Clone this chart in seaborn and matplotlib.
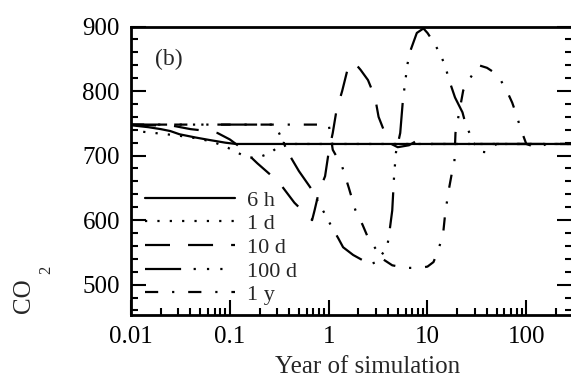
import matplotlib
matplotlib.use("Agg")
import matplotlib.pyplot as plt
import seaborn as sns
import numpy as np
from matplotlib.ticker import MultipleLocator, LogLocator, FixedLocator, FixedFormatter, NullFormatter

# ---------------- data ----------------
x_6h = [0.01, 0.015, 0.02, 0.025, 0.031, 0.045, 0.063, 0.09, 0.115, 290]
y_6h = [747, 744, 741, 738, 733, 728, 724, 720, 718, 718]

x_1d = [0.01, 0.013, 0.02, 0.03, 0.045, 0.065, 0.08, 0.096, 0.121, 0.153, 0.194,
        0.256, 0.30, 0.339, 0.4, 290]
y_1d = [740, 737, 734, 731, 727, 722, 717, 712, 704, 697, 697, 704, 712, 720, 718, 718]

x_10d = [0.01, 0.027, 0.04, 0.06, 0.075, 0.1, 0.12, 0.15, 0.19, 0.25, 0.32, 0.45,
         0.6, 0.68, 0.72, 0.8, 0.92, 1.0, 1.1, 1.2, 1.37, 1.55, 1.8, 2.1, 2.5,
         2.95, 3.2, 3.6, 3.9, 4.3, 5.0, 6.5, 8.0, 9.5, 11, 290]
y_10d = [748, 746, 741, 738, 735, 725, 716, 703, 688, 672, 657, 627,
         608, 600, 615, 645, 668, 705, 735, 770, 800, 833, 845, 833, 817,
         790, 760, 740, 728, 718, 713, 716, 724, 716, 718, 718]

x_100d = [0.01, 0.27, 0.30, 0.39, 0.5, 0.65, 0.92, 1.07, 1.25, 1.4, 1.77, 2.2,
          2.6, 3.0, 3.5, 3.9, 4.1, 4.4, 4.6, 4.8, 5.3, 5.6, 5.9, 6.3, 6.7, 7.8,
          9.1, 10, 11.5, 13.4, 15.2, 16.3, 19, 22.6, 24.2, 26.6, 29, 35, 40, 45,
          50, 290]
y_100d = [748, 748, 742, 704, 676, 651, 609, 590, 572, 558, 546, 538,
          531, 535, 548, 557, 579, 615, 670, 705, 735, 780, 810, 843, 862, 890,
          897, 890, 876, 858, 838, 820, 790, 767, 750, 735, 720, 706, 705, 712,
          718, 718]

x_1y = [0.01, 1.0, 1.05, 1.1, 1.37, 1.6, 1.86, 2.2, 2.5, 3.1, 3.5, 4.4, 6.0, 8.5,
        10, 11.5, 12.9, 14.4, 15.1, 16.3, 17.9, 18.7, 19.2, 20.1, 23, 27, 33,
        40, 47, 55, 65, 72, 80, 87, 100, 130, 160, 290]
y_1y = [748, 748, 730, 709, 683, 650, 616, 593, 573, 552, 540, 530, 526, 526,
        528, 535, 554, 579, 610, 644, 678, 688, 735, 752, 801, 820, 840,
        836, 829, 817, 797, 782, 762, 743, 718, 712, 718, 718]

series_labels = ["6 h", "1 d", "10 d", "100 d", "1 y"]
x_ticks = [0.01, 0.1, 1, 10, 100]
x_tick_labels = ["0.01", "0.1", "1", "10", "100"]
y_ticks = [500, 600, 700, 800, 900]

# ---------------- style ----------------
sns.set_style("ticks")
plt.rcParams["font.family"] = ["Liberation Serif", "DejaVu Serif"]
plt.rcParams["lines.scale_dashes"] = False

W, H = 571, 383
fig = plt.figure(figsize=(W / 100, H / 100), dpi=100)
left, right, top, bottom = 131, 572, 26.5, 315
ax = fig.add_axes([left / W, (H - bottom) / H, (right - left) / W, (bottom - top) / H])

styles = [
    "-",
    (0, (1.6, 7.3)),
    (0, (18, 13)),
    (0, (26, 9, 1.6, 8, 1.6, 8, 1.6, 9)),
    (0, (9.5, 10, 1.6, 10)),
]
data = [(x_6h, y_6h), (x_1d, y_1d), (x_10d, y_10d), (x_100d, y_100d), (x_1y, y_1y)]

for (xs, ys), lab, ls in zip(data, series_labels, styles):
    sns.lineplot(x=np.array(xs), y=np.array(ys), ax=ax, color="black", lw=1.6,
                 estimator=None, sort=False, label=lab, linestyle=ls)

ax.set_xscale("log")
ax.set_xlim(0.01, 290)
ax.set_ylim(453, 900)

ax.xaxis.set_major_locator(FixedLocator(x_ticks))
ax.xaxis.set_major_formatter(FixedFormatter(x_tick_labels))
ax.xaxis.set_minor_locator(LogLocator(base=10, subs=np.arange(2, 10), numticks=20))
ax.xaxis.set_minor_formatter(NullFormatter())
ax.yaxis.set_major_locator(FixedLocator(y_ticks))
ax.yaxis.set_minor_locator(MultipleLocator(20))

ax.tick_params(which="both", direction="in", top=False, right=True,
               width=1.5, labelsize=18, colors="black", pad=8)
ax.tick_params(which="major", length=10.8)
ax.tick_params(which="minor", length=5)
for s in ax.spines.values():
    s.set_linewidth(2)
    s.set_color("black")

ax.set_xlabel("")
ax.set_ylabel("")

leg = ax.legend(loc="upper left", bbox_to_anchor=(145 / W, 1 - 190 / H),
                bbox_transform=fig.transFigure, frameon=False, fontsize=16,
                handlelength=4.05, handletextpad=0.55, labelspacing=0.14,
                borderpad=0, borderaxespad=0)

fig.text(169 / W, 1 - 59 / H, "(b)", ha="center", va="center", fontsize=17)
fig.text(368 / W, 1 - 367 / H, "Year of simulation", ha="center", va="center", fontsize=18)
fig.text(24 / W, 1 - 296 / H, "CO", ha="center", va="center", rotation=90, fontsize=18)
fig.text(46 / W, 1 - 270 / H, "2", ha="center", va="center", rotation=90, fontsize=12)

fig.savefig("out.png", dpi=100)
